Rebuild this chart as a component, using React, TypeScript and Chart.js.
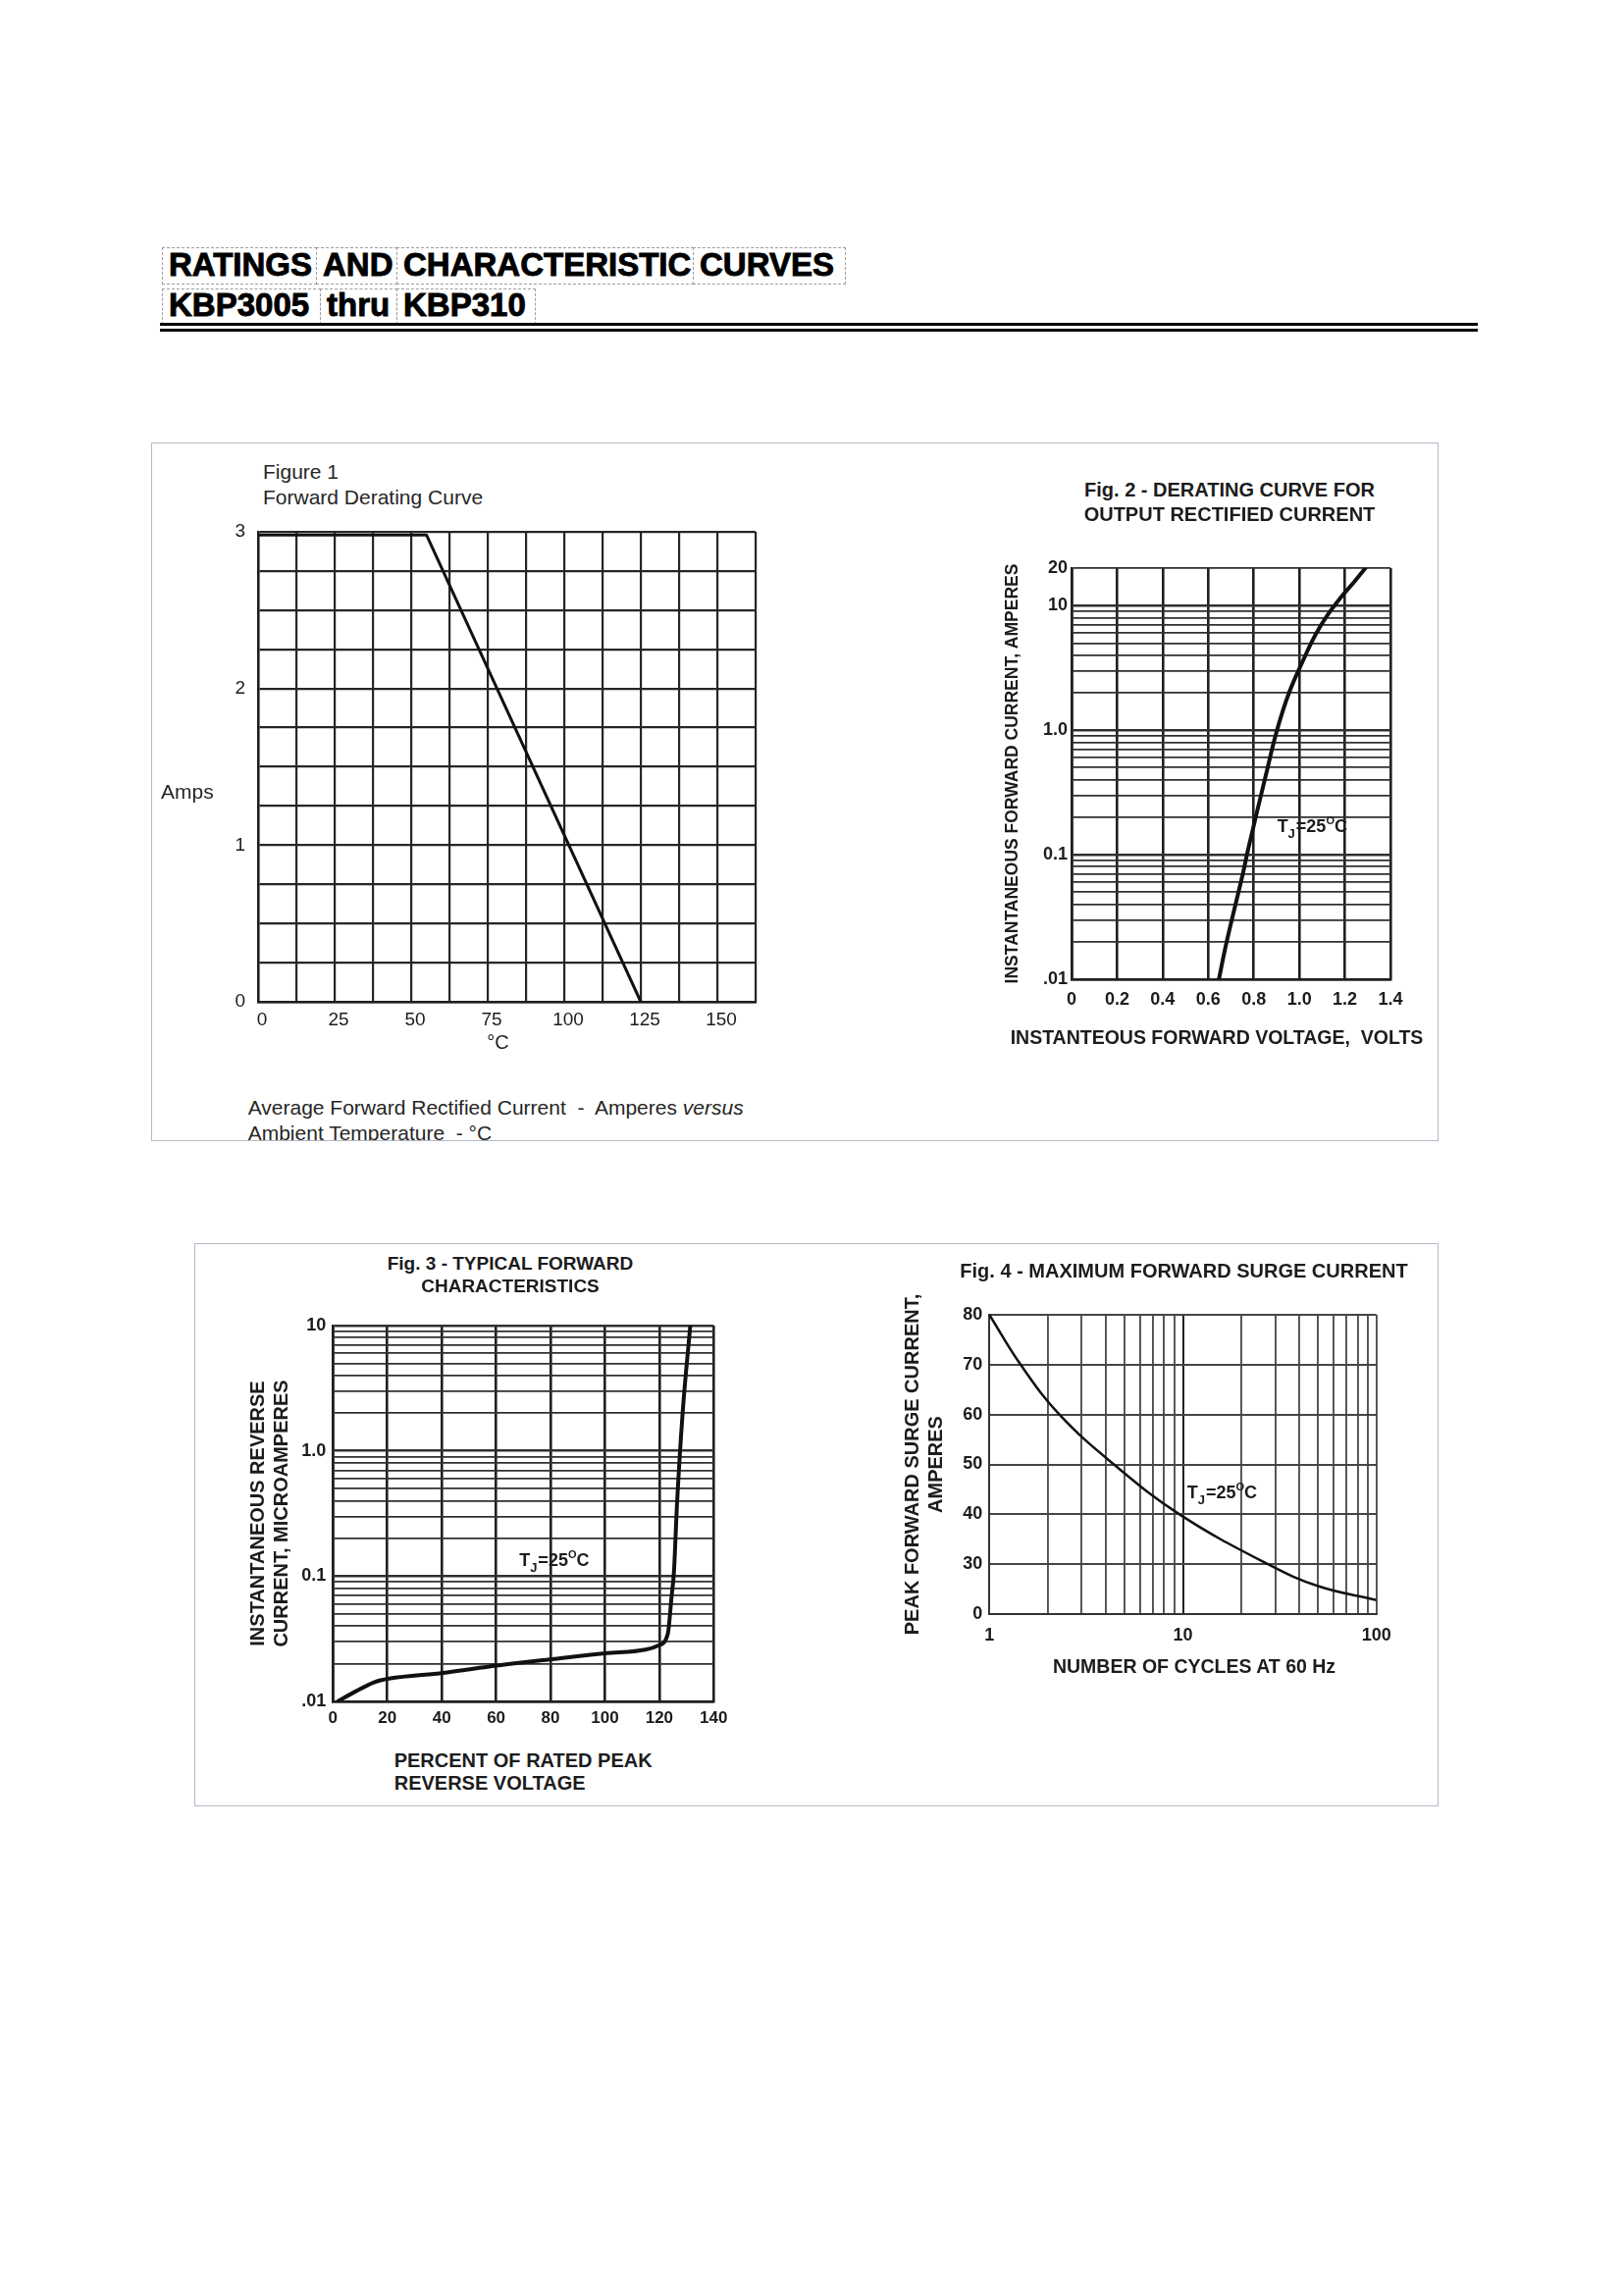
import React, { useEffect, useRef } from 'react';
import { Chart, registerables } from 'chart.js';

Chart.register(...registerables);

const FONT = '"Liberation Sans", Arial, Helvetica, sans-serif';
const INK = '#1c1c1c';

// ---------------- Figure 1 : Forward Derating Curve ----------------
const fig1Temperature = [0, 55, 125];
const fig1Current = [2.98, 2.98, 0];
const fig1XTicks = [0, 12.5, 25, 37.5, 50, 62.5, 75, 87.5, 100, 112.5, 125, 137.5, 150, 162.5];
const fig1XLabelValues = [0, 25, 50, 75, 100, 125, 150];
const fig1XLabels = ['0', '25', '50', '75', '100', '125', '150'];
const fig1YTicks = [0, 0.25, 0.5, 0.75, 1, 1.25, 1.5, 1.75, 2, 2.25, 2.5, 2.75, 3];
const fig1YLabelValues = [0, 1, 2, 3];
const fig1YLabels = ['0', '1', '2', '3'];

// ---------------- Figure 2 : Forward voltage vs current ----------------
const fig2Voltage = [0.647, 0.681, 0.7525, 0.775, 0.853, 0.902, 0.955, 1.027, 1.07, 1.12, 1.185, 1.242, 1.29];
const fig2Current = [0.01, 0.02, 0.071, 0.11, 0.435, 1.0, 2.0, 4.0, 5.8, 8.2, 11.8, 15.6, 20];
const fig2XTicks = [0, 0.2, 0.4, 0.6, 0.8, 1.0, 1.2, 1.4];
const fig2XLabels = ['0', '0.2', '0.4', '0.6', '0.8', '1.0', '1.2', '1.4'];
const fig2YTicks = [0.01, 0.02, 0.03, 0.04, 0.05, 0.06, 0.07, 0.08, 0.09, 0.1, 0.2, 0.3, 0.4, 0.5, 0.6, 0.7, 0.8, 0.9, 1, 2, 3, 4, 5, 6, 7, 8, 9, 10, 20];
const fig2YLabelValues = [0.01, 0.1, 1, 10, 20];
const fig2YLabels = ['.01', '0.1', '1.0', '10', '20'];
const fig2TjAt = { x: 0.903, y: 0.151 };

// ---------------- Figure 3 : Reverse current ----------------
const fig3Percent = [1.8, 8.3, 15.1, 20.6, 40.6, 60.2, 80.5, 100.1, 114.9, 119.7, 123.1, 124.5, 125.4, 126.5, 128.6, 131.4];
const fig3Current = [0.01, 0.012, 0.0142, 0.0152, 0.0169, 0.0193, 0.0217, 0.0242, 0.0259, 0.028, 0.0344, 0.068, 0.109, 0.37, 2.03, 10];
const fig3XTicks = [0, 20, 40, 60, 80, 100, 120, 140];
const fig3XLabels = ['0', '20', '40', '60', '80', '100', '120', '140'];
const fig3YTicks = [0.01, 0.02, 0.03, 0.04, 0.05, 0.06, 0.07, 0.08, 0.09, 0.1, 0.2, 0.3, 0.4, 0.5, 0.6, 0.7, 0.8, 0.9, 1, 2, 3, 4, 5, 6, 7, 8, 9, 10];
const fig3YLabelValues = [0.01, 0.1, 1, 10];
const fig3YLabels = ['.01', '0.1', '1.0', '10'];
const fig3TjAt = { x: 68.5, y: 0.12 };

// ---------------- Figure 4 : Maximum forward surge current ----------------
const fig4Cycles = [1, 1.45, 2.3, 4.4, 9.6, 27.5, 50, 100];
const fig4Current = [80, 70, 60, 50, 40, 30, 25.6, 22.8];
const fig4XTicks = [1, 2, 3, 4, 5, 6, 7, 8, 9, 10, 20, 30, 40, 50, 60, 70, 80, 90, 100];
const fig4XLabelValues = [1, 10, 100];
const fig4XLabels = ['1', '10', '100'];
const fig4YTicks = [20, 30, 40, 50, 60, 70, 80];
const fig4YLabels = ['0', '30', '40', '50', '60', '70', '80'];
const fig4TjAt = { x: 10.5, y: 43.3 };

// ---------------- texts ----------------
const titleLine1 = ['RATINGS', 'AND', 'CHARACTERISTIC', 'CURVES'];
const titleLine2 = ['KBP3005', 'thru', 'KBP310'];
const fig2Title = ['Fig. 2 - DERATING CURVE FOR', 'OUTPUT RECTIFIED CURRENT'];
const fig2YTitle = 'INSTANTANEOUS FORWARD CURRENT, AMPERES';
const fig2XTitle = 'INSTANTEOUS FORWARD VOLTAGE,  VOLTS';
const fig3Title = ['Fig. 3 - TYPICAL FORWARD', 'CHARACTERISTICS'];
const fig3YTitle = ['INSTANTANEOUS REVERSE', 'CURRENT, MICROAMPERES'];
const fig3XTitle = ['PERCENT OF RATED PEAK', 'REVERSE VOLTAGE'];
const fig4Title = 'Fig. 4 - MAXIMUM FORWARD SURGE CURRENT';
const fig4YTitle = ['PEAK FORWARD SURGE CURRENT,', 'AMPERES'];
const fig4XTitle = 'NUMBER OF CYCLES AT 60 Hz';

// ---------------- helpers ----------------
const labelFor = (values: number[], labels: string[]) => (v: number | string) => {
  const n = Number(v);
  const i = values.findIndex((x) => Math.abs(x - n) <= 1e-9 * Math.max(1, Math.abs(x)));
  return i >= 0 ? labels[i] : '';
};
const indexLabel = (labels: string[]) => (_v: any, i: number) => labels[i] ?? '';

const isDecade = (v: number) => {
  const l = Math.log10(v);
  return Math.abs(l - Math.round(l)) < 1e-6;
};

type AxisOpts = {
  type: 'linear' | 'logarithmic';
  horizontal: boolean;
  min: number;
  max: number;
  ticks: number[];
  label: (v: any, i: number) => string;
  fontSize: number;
  bold: boolean;
  padding: number;
  labelOffset?: number;
  size: number;
  gridColor: any;
  gridWidth: any;
  borderColor: string;
  borderWidth: number;
  title?: { text: string | string[]; size: number };
};

function makeAxis(o: AxisOpts) {
  return {
    type: o.type,
    min: o.min,
    max: o.max,
    afterBuildTicks: (s: any) => {
      s.ticks = o.ticks.map((v) => ({ value: v }));
    },
    afterFit: (s: any) => {
      if (o.horizontal) s.height = o.size;
      else s.width = o.size;
      s.paddingLeft = 0;
      s.paddingRight = 0;
      s.paddingTop = 0;
      s.paddingBottom = 0;
    },
    ticks: {
      autoSkip: false,
      maxRotation: 0,
      minRotation: 0,
      padding: o.padding,
      labelOffset: o.labelOffset ?? 0,
      color: INK,
      font: { family: FONT, size: o.fontSize, weight: o.bold ? 'bold' : 'normal' },
      callback: (v: any, i: number) => o.label(v, i),
    },
    grid: { color: o.gridColor, lineWidth: o.gridWidth, drawTicks: false },
    border: { display: true, color: o.borderColor, width: o.borderWidth },
    title: o.title
      ? {
          display: true,
          text: o.title.text,
          color: INK,
          font: { family: FONT, size: o.title.size, weight: 'bold', lineHeight: 1.2 },
          padding: 0,
        }
      : { display: false },
  };
}

type Seg = { text: string; size: number; dy: number; gap: number };
const tjSegments: Seg[] = [
  { text: 'T', size: 18, dy: 0, gap: 0 },
  { text: 'J', size: 13, dy: 6, gap: 1 },
  { text: '=25', size: 18, dy: 0, gap: 0 },
  { text: 'O', size: 11, dy: -8, gap: 0 },
  { text: 'C', size: 18, dy: 0, gap: 0 },
];

const tjLabelPlugin = {
  id: 'tjLabel',
  afterDatasetsDraw(chart: any, _args: any, opts: any) {
    if (!opts || !opts.at) return;
    const px = chart.scales.x.getPixelForValue(opts.at.x);
    const py = chart.scales.y.getPixelForValue(opts.at.y);
    const ctx = chart.ctx as CanvasRenderingContext2D;
    ctx.save();
    ctx.fillStyle = INK;
    ctx.textAlign = 'left';
    ctx.textBaseline = 'alphabetic';
    let cx = px;
    tjSegments.forEach((s) => {
      ctx.font = `bold ${s.size}px ${FONT}`;
      ctx.fillText(s.text, cx, py + s.dy);
      cx += ctx.measureText(s.text).width + s.gap;
    });
    ctx.restore();
  },
};

const baseOptions = {
  animation: false,
  responsive: false,
  maintainAspectRatio: false,
  events: [] as any[],
};

const line = (xs: number[], ys: number[], width: number, mode: 'straight' | 'smooth' | 'monotone') => ({
  data: xs.map((x, i) => ({ x, y: ys[i] })),
  borderColor: '#111',
  borderWidth: width,
  pointRadius: 0,
  fill: false,
  tension: mode === 'straight' ? 0 : 0.4,
  cubicInterpolationMode: mode === 'monotone' ? 'monotone' : 'default',
  borderJoinStyle: 'round',
  borderCapStyle: 'round',
});

const fig1Config = () => ({
  type: 'line',
  data: { datasets: [line(fig1Temperature, fig1Current, 3, 'straight')] },
  options: {
    ...baseOptions,
    layout: { padding: { left: 0, top: 17, right: 30, bottom: 0 }, autoPadding: false },
    plugins: { legend: { display: false }, tooltip: { enabled: false } },
    scales: {
      x: makeAxis({
        type: 'linear', horizontal: true, min: 0, max: 162.5, ticks: fig1XTicks,
        label: labelFor(fig1XLabelValues, fig1XLabels), fontSize: 19, bold: false, padding: 7, labelOffset: 4,
        size: 52, gridColor: '#262626', gridWidth: 2.2, borderColor: '#1e1e1e', borderWidth: 2.5,
      }),
      y: makeAxis({
        type: 'linear', horizontal: false, min: 0, max: 3, ticks: fig1YTicks,
        label: labelFor(fig1YLabelValues, fig1YLabels), fontSize: 19, bold: false, padding: 13,
        size: 103, gridColor: '#262626', gridWidth: 2.2, borderColor: '#1e1e1e', borderWidth: 2.5,
      }),
    },
  },
});

const fig2Config = () => ({
  type: 'line',
  data: { datasets: [line(fig2Voltage, fig2Current, 4, 'smooth')] },
  plugins: [tjLabelPlugin],
  options: {
    ...baseOptions,
    layout: { padding: { left: 21.5, top: 19, right: 23, bottom: 0 }, autoPadding: false },
    plugins: { legend: { display: false }, tooltip: { enabled: false }, tjLabel: { at: fig2TjAt } },
    scales: {
      x: makeAxis({
        type: 'linear', horizontal: true, min: 0, max: 1.4, ticks: fig2XTicks,
        label: indexLabel(fig2XLabels), fontSize: 18, bold: true, padding: 10,
        size: 40, gridColor: '#1f1f1f', gridWidth: 2.6, borderColor: '#1f1f1f', borderWidth: 2.6,
      }),
      y: makeAxis({
        type: 'logarithmic', horizontal: false, min: 0.01, max: 20, ticks: fig2YTicks,
        label: labelFor(fig2YLabelValues, fig2YLabels), fontSize: 18, bold: true, padding: 4,
        size: 70.5, gridColor: '#303030',
        gridWidth: (c: any) => (c.tick && isDecade(c.tick.value) ? 2.4 : 1.8),
        borderColor: '#1f1f1f', borderWidth: 2.6,
        title: { text: fig2YTitle, size: 17.5 },
      }),
    },
  },
});

const fig3Config = () => ({
  type: 'line',
  data: { datasets: [line(fig3Percent, fig3Current, 4, 'monotone')] },
  plugins: [tjLabelPlugin],
  options: {
    ...baseOptions,
    layout: { padding: { left: 11.5, top: 16, right: 22.7, bottom: 0 }, autoPadding: false },
    plugins: { legend: { display: false }, tooltip: { enabled: false }, tjLabel: { at: fig3TjAt } },
    scales: {
      x: makeAxis({
        type: 'linear', horizontal: true, min: 0, max: 140, ticks: fig3XTicks,
        label: indexLabel(fig3XLabels), fontSize: 17, bold: true, padding: 7.5,
        size: 35, gridColor: '#1f1f1f', gridWidth: 2.6, borderColor: '#1f1f1f', borderWidth: 2.6,
      }),
      y: makeAxis({
        type: 'logarithmic', horizontal: false, min: 0.01, max: 10, ticks: fig3YTicks,
        label: labelFor(fig3YLabelValues, fig3YLabels), fontSize: 18, bold: true, padding: 7,
        size: 87.8, gridColor: '#303030',
        gridWidth: (c: any) => (c.tick && isDecade(c.tick.value) ? 2.4 : 1.8),
        borderColor: '#1f1f1f', borderWidth: 2.6,
        title: { text: fig3YTitle, size: 20 },
      }),
    },
  },
});

const fig4Config = () => ({
  type: 'line',
  data: { datasets: [line(fig4Cycles, fig4Current, 2.5, 'smooth')] },
  plugins: [tjLabelPlugin],
  options: {
    ...baseOptions,
    layout: { padding: { left: 18, top: 20, right: 27.3, bottom: 0 }, autoPadding: false },
    plugins: { legend: { display: false }, tooltip: { enabled: false }, tjLabel: { at: fig4TjAt } },
    scales: {
      x: makeAxis({
        type: 'logarithmic', horizontal: true, min: 1, max: 100, ticks: fig4XTicks,
        label: labelFor(fig4XLabelValues, fig4XLabels), fontSize: 18, bold: true, padding: 10.9,
        size: 35,
        gridColor: (c: any) => (c.tick && c.tick.value === 10 ? '#151515' : '#505050'),
        gridWidth: 1.9, borderColor: '#333', borderWidth: 2,
      }),
      y: makeAxis({
        type: 'linear', horizontal: false, min: 20, max: 80, ticks: fig4YTicks,
        label: indexLabel(fig4YLabels), fontSize: 18, bold: true, padding: 7,
        size: 90.3, gridColor: '#454545', gridWidth: 2, borderColor: '#333', borderWidth: 2,
        title: { text: fig4YTitle, size: 20 },
      }),
    },
  },
});

function ChartCanvas({ x, y, w, h, config }: { x: number; y: number; w: number; h: number; config: () => any }) {
  const ref = useRef<HTMLCanvasElement>(null);
  useEffect(() => {
    if (!ref.current) return;
    const chart = new Chart(ref.current, config());
    return () => chart.destroy();
  }, []);
  return (
    <canvas
      ref={ref}
      width={w}
      height={h}
      style={{ position: 'absolute', left: x, top: y, width: w, height: h }}
    />
  );
}

function Txt({
  x, y, size, bold = false, align = 'left', color = INK, children,
}: { x: number; y: number; size: number; bold?: boolean; align?: 'left' | 'center'; color?: string; children: React.ReactNode }) {
  const lh = Math.round(size * 1.2);
  const style: React.CSSProperties = {
    position: 'absolute',
    top: y - lh / 2,
    fontSize: size,
    lineHeight: `${lh}px`,
    fontWeight: bold ? 700 : 400,
    fontFamily: FONT,
    color,
    whiteSpace: 'pre',
  };
  if (align === 'center') {
    style.left = x - 600;
    style.width = 1200;
    style.textAlign = 'center';
  } else {
    style.left = x;
  }
  return <div style={style}>{children}</div>;
}

function WordBoxes({ words, edges, top, height, textTop }: { words: string[]; edges: number[]; top: number; height: number; textTop: number }) {
  return (
    <>
      {words.map((w, i) => (
        <div
          key={w}
          style={{
            position: 'absolute',
            left: edges[i],
            top,
            width: edges[i + 1] - edges[i] + 1,
            height,
            boxSizing: 'border-box',
            border: '1px dashed #9d9d9d',
          }}
        >
          <span
            style={{
              position: 'absolute',
              left: 6,
              top: textTop,
              fontFamily: FONT,
              fontWeight: 700,
              fontSize: 33,
              lineHeight: '33px',
              color: '#000',
              whiteSpace: 'pre',
              WebkitTextStroke: '0.9px #000',
            }}
          >
            {w}
          </span>
        </div>
      ))}
    </>
  );
}

export default function App() {
  const panelBorder = '1.5px solid #b5b8c6';
  return (
    <div style={{ position: 'absolute', left: 0, top: 0, width: 1655, height: 2340, background: '#fff', overflow: 'hidden' }}>
      {/* page heading */}
      <WordBoxes words={titleLine1} edges={[165, 322, 404, 706, 861]} top={252} height={38} textTop={0} />
      <WordBoxes words={titleLine2} edges={[165, 326, 404, 545]} top={294} height={37} textTop={-1} />
      <div style={{ position: 'absolute', left: 163, top: 329, width: 1343, height: 3, background: '#000' }} />
      <div style={{ position: 'absolute', left: 163, top: 335, width: 1343, height: 3, background: '#000' }} />

      {/* panels */}
      <div style={{ position: 'absolute', left: 154, top: 451, width: 1312, height: 712, boxSizing: 'border-box', border: panelBorder }} />
      <div style={{ position: 'absolute', left: 198, top: 1267, width: 1268, height: 574, boxSizing: 'border-box', border: panelBorder }} />

      {/* charts */}
      <ChartCanvas x={160} y={525} w={640} h={548} config={fig1Config} />
      <ChartCanvas x={1000} y={560} w={440} h={478} config={fig2Config} />
      <ChartCanvas x={240} y={1335} w={510} h={434} config={fig3Config} />
      <ChartCanvas x={900} y={1320} w={530} h={360} config={fig4Config} />

      {/* Figure 1 texts */}
      <Txt x={268} y={480} size={21} color="#262626">Figure 1</Txt>
      <Txt x={268} y={506} size={21} color="#262626">Forward Derating Curve</Txt>
      <Txt x={164} y={806} size={21} color="#262626">Amps</Txt>
      <Txt x={507.5} y={1062} size={20} align="center" color="#262626">°C</Txt>
      <Txt x={252.7} y={1128.3} size={21} color="#262626">
        {'Average Forward Rectified Current  -  Amperes '}
        <i>versus</i>
      </Txt>
      <div style={{ position: 'absolute', left: 200, top: 1140, width: 700, height: 22, overflow: 'hidden' }}>
        <Txt x={52.7} y={14} size={21} color="#262626">{'Ambient Temperature  - °C'}</Txt>
      </div>

      {/* Figure 2 texts */}
      <Txt x={1253} y={498.8} size={20} bold align="center">{fig2Title[0]}</Txt>
      <Txt x={1253} y={523.6} size={20} bold align="center">{fig2Title[1]}</Txt>
      <Txt x={1240} y={1057} size={19.5} bold align="center">{fig2XTitle}</Txt>

      {/* Figure 3 texts */}
      <Txt x={520} y={1287} size={19} bold align="center">{fig3Title[0]}</Txt>
      <Txt x={520} y={1310.7} size={19} bold align="center">{fig3Title[1]}</Txt>
      <Txt x={401.7} y={1794} size={20} bold>{fig3XTitle[0]}</Txt>
      <Txt x={401.7} y={1816.7} size={20} bold>{fig3XTitle[1]}</Txt>

      {/* Figure 4 texts */}
      <Txt x={1206.5} y={1295} size={20} bold align="center">{fig4Title}</Txt>
      <Txt x={1217} y={1698.3} size={19.5} bold align="center">{fig4XTitle}</Txt>
    </div>
  );
}
